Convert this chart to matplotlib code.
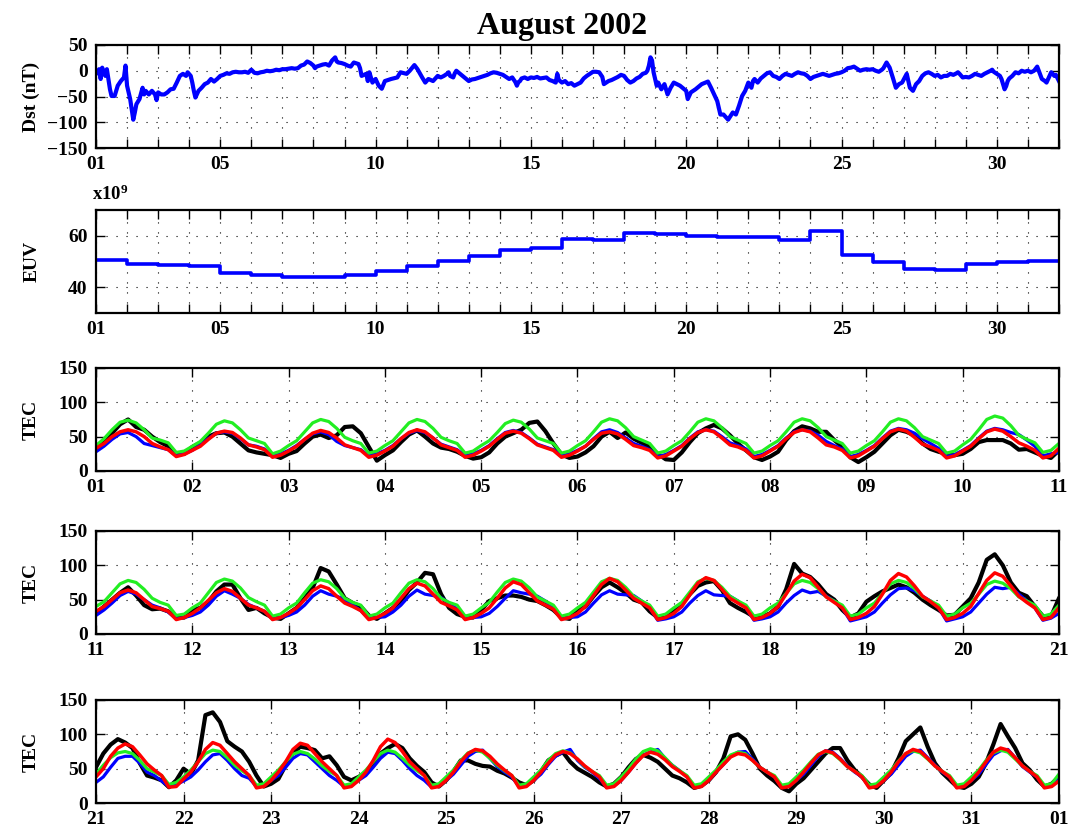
import numpy as np
import matplotlib.pyplot as plt

plt.rcParams['font.family'] = ['Liberation Serif', 'DejaVu Serif']
plt.rcParams['font.weight'] = 'bold'
plt.rcParams['mathtext.fontset'] = 'custom'
plt.rcParams['mathtext.rm'] = 'Liberation Serif:bold'
plt.rcParams['mathtext.bf'] = 'Liberation Serif:bold'
plt.rcParams['mathtext.it'] = 'Liberation Serif:bold'

# Dst index (day of month, nT)
dst_day = [1.0, 1.1, 1.15, 1.2, 1.3, 1.35, 1.45, 1.5, 1.6, 1.7, 1.8, 1.9, 1.95, 2.0,
           2.1, 2.15, 2.2, 2.25, 2.3, 2.4, 2.5, 2.55, 2.6, 2.7, 2.8, 2.9, 2.95, 3.0,
           3.1, 3.2, 3.3, 3.4, 3.5, 3.6, 3.7, 3.8, 3.9, 3.95, 4.05, 4.1, 4.15, 4.2,
           4.3, 4.4, 4.5, 4.6, 4.7, 4.8, 4.9, 5.0, 5.1, 5.2, 5.3, 5.4, 5.5, 5.6,
           5.7, 5.8, 5.9, 6.0, 6.1, 6.2, 6.3, 6.4, 6.5, 6.6, 6.7, 6.8, 6.9, 7.0,
           7.1, 7.2, 7.3, 7.4, 7.5, 7.6, 7.7, 7.8, 7.9, 8.0, 8.05, 8.1, 8.2, 8.3,
           8.4, 8.5, 8.6, 8.7, 8.75, 8.8, 8.9, 9.0, 9.1, 9.2, 9.3, 9.4, 9.45, 9.5,
           9.55, 9.7, 9.75, 9.8, 9.9, 10.0, 10.1, 10.2, 10.3, 10.5, 10.7, 10.8, 11.0,
           11.1, 11.25, 11.35, 11.5, 11.6, 11.7, 11.85, 12.0, 12.1, 12.2, 12.3, 12.35,
           12.4, 12.5, 12.55, 12.6, 12.7, 12.8, 12.9, 13.0, 13.1, 13.2, 13.3, 13.4,
           13.5, 13.6, 13.7, 13.8, 13.9, 14.0, 14.1, 14.2, 14.3, 14.4, 14.5, 14.55,
           14.6, 14.65, 14.7, 14.8, 14.9, 15.0, 15.1, 15.2, 15.3, 15.4, 15.5, 15.6,
           15.7, 15.8, 15.85, 15.9, 16.0, 16.1, 16.2, 16.3, 16.4, 16.5, 16.6, 16.7,
           16.8, 16.9, 17.0, 17.1, 17.2, 17.3, 17.35, 17.4, 17.5, 17.6, 17.7, 17.8,
           17.85, 17.9, 18.0, 18.1, 18.2, 18.3, 18.4, 18.5, 18.6, 18.7, 18.75, 18.8,
           18.85, 18.9, 18.95, 19.05, 19.1, 19.2, 19.3, 19.4, 19.5, 19.6, 19.7, 19.8,
           20.0, 20.05, 20.15, 20.3, 20.5, 20.7, 20.8, 20.9, 21.0, 21.1, 21.2, 21.35,
           21.5, 21.6, 21.7, 21.8, 21.9, 22.0, 22.1, 22.15, 22.2, 22.3, 22.4, 22.5,
           22.6, 22.7, 22.8, 22.9, 23.0, 23.1, 23.2, 23.3, 23.4, 23.5, 23.6, 23.7,
           23.8, 23.9, 24.0, 24.1, 24.2, 24.3, 24.4, 24.5, 24.6, 24.7, 24.8, 24.9,
           25.0, 25.1, 25.2, 25.3, 25.4, 25.5, 25.6, 25.7, 25.8, 25.9, 26.0, 26.1,
           26.2, 26.3, 26.35, 26.45, 26.55, 26.65, 26.75, 26.85, 26.95, 27.1, 27.2,
           27.3, 27.4, 27.5, 27.6, 27.7, 27.8, 27.9, 28.0, 28.1, 28.2, 28.3, 28.4,
           28.5, 28.6, 28.7, 28.75, 28.8, 28.9, 29.0, 29.1, 29.2, 29.3, 29.4, 29.5,
           29.6, 29.7, 29.8, 29.85, 29.9, 30.0, 30.1, 30.15, 30.25, 30.3, 30.35, 30.4,
           30.5, 30.6, 30.7, 30.8, 30.9, 31.0, 31.1, 31.2, 31.3, 31.35, 31.45, 31.55,
           31.6, 31.7, 31.75, 31.8, 31.85, 31.9, 32.0]
dst_nt = [-6, 3, -16, 6, -10, 3, -36, -49, -49, -29, -20, -13, 10, -29,
          -55, -75, -95, -81, -65, -55, -33, -46, -39, -46, -39, -46, -57, -42,
          -46, -46, -42, -36, -35, -23, -10, -6, -10, -3, -10, -23, -39, -52,
          -39, -33, -26, -23, -16, -21, -16, -10, -8, -5, -6, -3, -2, -3,
          -3, -2, -4, 2, -4, -5, -3, -2, 0, -1, 0, 2, 1, 3,
          3, 4, 5, 4, 5, 10, 12, 18, 15, 10, 5, 8, 10, 12,
          13, 10, 20, 26, 18, 16, 15, 13, 10, 8, 16, 14, 13, 5,
          -10, -6, -20, -3, -23, -16, -29, -35, -20, -16, -13, -3, -6,
          0, 11, 3, -13, -23, -16, -20, -10, -13, -10, -6, -3,
          -10, -13, -5, 0, -5, -10, -15, -20, -17, -16, -14, -12,
          -10, -8, -5, -3, -4, -6, -8, -12, -16, -13, -22, -29,
          -22, -20, -15, -13, -16, -13, -14, -12, -15, -14, -13, -18,
          -20, -23, -6, -18, -23, -20, -26, -24, -29, -26, -23, -15,
          -10, -6, -2, -2, -3, -12, -26, -24, -20, -18, -15, -12,
          -10, -8, -10, -18, -23, -20, -15, -12, -6, -4, 0, 10,
          26, 20, -3, -29, -23, -36, -26, -46, -33, -23, -26, -29,
          -39, -55, -42, -36, -26, -21, -33, -46, -59, -85, -85, -95,
          -81, -85, -68, -49, -39, -23, -33, -20, -16, -23, -15, -10,
          -5, -3, -10, -12, -16, -10, -6, -8, -10, -6, -3, -5,
          -6, -10, -16, -12, -10, -8, -6, -8, -10, -8, -6, -5,
          -3, 0, 5, 6, 8, 4, 0, 2, 3, 2, 3, 0,
          -2, 2, 5, 16, 6, -13, -33, -26, -23, -6, -33,
          -39, -26, -20, -10, -5, -3, -6, -10, -8, -13, -10, -10,
          -6, -8, -5, -3, -6, -13, -12, -13, -10, -6, -8, -10,
          -6, -3, 0, 2, -2, -6, -10, -16, -36, -30, -20, -15,
          -10, -3, -5, 0, -2, 0, -3, 0, 8, 0, -16, -20,
          -23, -10, -3, -6, -10, -8, -20]

# daily EUV flux (x10^9), Aug 01 .. Aug 31
euv_flux = [50.5, 49.2, 48.8, 48.4, 45.4, 44.7, 44.1, 44.0, 44.7, 46.5,
            48.3, 50.2, 52.2, 54.5, 55.4, 58.7, 58.4, 61.0, 60.6, 60.1,
            59.6, 59.6, 58.4, 61.7, 52.6, 49.7, 47.0, 46.7, 49.0, 49.9,
            50.2]

# TEC, 2-hour samples (00, 02, ..., 22 UT), one row per day of August
tec_obs = [
    [33, 43, 55, 68, 75, 64, 60, 50, 42, 36, 24, 25],
    [35, 41, 50, 55, 56, 50, 40, 30, 27, 25, 23, 19],
    [25, 29, 40, 50, 53, 48, 52, 64, 65, 55, 35, 15],
    [23, 30, 42, 53, 59, 50, 40, 34, 32, 28, 22, 18],
    [20, 27, 40, 50, 55, 60, 70, 72, 58, 40, 24, 19],
    [21, 27, 36, 50, 57, 48, 56, 47, 41, 35, 25, 17],
    [16, 27, 42, 55, 62, 67, 62, 52, 40, 30, 20, 16],
    [21, 28, 45, 58, 65, 62, 57, 57, 45, 35, 20, 13],
    [20, 28, 40, 52, 60, 57, 52, 40, 32, 28, 25, 23],
    [25, 32, 42, 45, 45, 45, 40, 31, 32, 27, 22, 19],
    [30, 40, 50, 60, 68, 56, 42, 36, 37, 33, 24, 24],
    [35, 38, 47, 62, 72, 72, 52, 35, 38, 30, 24, 22],
    [30, 38, 52, 67, 96, 91, 72, 52, 45, 40, 27, 22],
    [30, 38, 48, 64, 75, 89, 87, 58, 38, 29, 25, 24],
    [35, 48, 52, 56, 56, 54, 50, 48, 42, 35, 24, 22],
    [35, 40, 55, 68, 75, 68, 60, 50, 46, 33, 24, 24],
    [35, 43, 58, 70, 75, 77, 64, 45, 38, 32, 25, 25],
    [30, 40, 65, 102, 88, 83, 72, 58, 50, 35, 24, 30],
    [47, 55, 62, 67, 72, 68, 60, 50, 42, 35, 27, 28],
    [40, 52, 75, 108, 116, 100, 75, 60, 55, 40, 26, 25],
    [52, 72, 85, 93, 88, 80, 58, 40, 37, 33, 23, 33],
    [50, 42, 62, 128, 132, 118, 90, 82, 75, 60, 40, 24],
    [28, 35, 55, 73, 82, 80, 77, 65, 68, 55, 38, 33],
    [38, 44, 58, 72, 80, 86, 80, 65, 54, 45, 30, 24],
    [33, 46, 62, 62, 57, 54, 53, 47, 43, 37, 30, 26],
    [33, 46, 62, 69, 74, 60, 50, 44, 38, 30, 24, 28],
    [38, 52, 64, 70, 66, 60, 50, 40, 36, 30, 22, 25],
    [33, 45, 65, 97, 100, 92, 72, 50, 40, 32, 22, 17],
    [28, 36, 48, 60, 72, 80, 80, 62, 48, 38, 27, 22],
    [33, 44, 65, 90, 100, 110, 82, 58, 44, 34, 24, 22],
    [28, 38, 58, 85, 115, 97, 80, 58, 48, 34, 24, 28],
]
tec_blue = [
    [28, 36, 46, 54, 56, 50, 40, 37, 34, 31, 22, 25],
    [30, 38, 47, 55, 57, 55, 47, 38, 36, 32, 22, 25],
    [30, 37, 46, 54, 57, 53, 43, 37, 34, 31, 22, 25],
    [30, 37, 47, 55, 59, 56, 48, 39, 35, 31, 22, 25],
    [30, 37, 47, 56, 59, 56, 48, 39, 35, 31, 22, 25],
    [30, 36, 47, 57, 60, 56, 48, 40, 36, 31, 21, 24],
    [30, 37, 48, 57, 60, 58, 50, 41, 37, 32, 21, 24],
    [30, 37, 48, 57, 60, 58, 52, 43, 37, 32, 21, 24],
    [30, 37, 48, 58, 62, 60, 55, 47, 40, 33, 21, 24],
    [30, 37, 48, 58, 62, 60, 56, 53, 45, 36, 22, 25],
    [27, 35, 45, 56, 62, 58, 50, 42, 38, 32, 22, 24],
    [27, 32, 42, 55, 63, 58, 52, 43, 38, 33, 22, 24],
    [27, 32, 42, 55, 63, 58, 55, 50, 42, 34, 22, 24],
    [25, 32, 42, 55, 64, 58, 56, 53, 45, 36, 22, 24],
    [25, 30, 40, 52, 63, 60, 58, 55, 48, 38, 22, 24],
    [25, 32, 45, 57, 63, 58, 57, 56, 48, 38, 20, 22],
    [25, 32, 45, 56, 63, 57, 56, 55, 48, 38, 20, 22],
    [25, 32, 45, 56, 64, 60, 62, 55, 48, 38, 19, 22],
    [25, 32, 45, 57, 66, 67, 63, 55, 48, 38, 19, 22],
    [25, 32, 45, 58, 68, 66, 68, 58, 48, 38, 20, 23],
    [30, 38, 52, 65, 68, 68, 58, 45, 40, 32, 24, 27],
    [32, 38, 48, 60, 70, 72, 62, 50, 40, 36, 24, 25],
    [33, 40, 52, 65, 72, 70, 60, 50, 40, 33, 24, 25],
    [33, 40, 52, 65, 74, 72, 62, 50, 40, 33, 23, 25],
    [33, 42, 55, 68, 75, 77, 65, 53, 45, 38, 24, 26],
    [33, 42, 56, 68, 74, 78, 62, 52, 45, 36, 23, 25],
    [33, 45, 58, 70, 74, 78, 65, 55, 47, 38, 23, 25],
    [33, 45, 56, 68, 74, 75, 64, 52, 45, 38, 23, 25],
    [33, 42, 55, 68, 76, 74, 65, 54, 45, 38, 23, 25],
    [33, 42, 55, 68, 75, 77, 66, 55, 45, 38, 23, 25],
    [33, 42, 56, 70, 76, 78, 66, 53, 45, 38, 23, 25],
]
tec_green = [
    [37, 47, 60, 71, 74, 70, 60, 48, 45, 41, 27, 29],
    [36, 43, 55, 68, 73, 70, 60, 48, 44, 40, 25, 29],
    [37, 44, 57, 70, 75, 72, 62, 49, 44, 40, 26, 29],
    [37, 44, 57, 70, 75, 72, 62, 49, 44, 40, 26, 29],
    [37, 44, 56, 69, 74, 71, 61, 48, 44, 40, 26, 29],
    [37, 44, 57, 71, 76, 73, 63, 50, 45, 40, 26, 29],
    [37, 44, 57, 71, 76, 73, 63, 50, 45, 40, 26, 29],
    [37, 44, 57, 71, 76, 73, 63, 50, 45, 40, 26, 29],
    [37, 44, 57, 71, 76, 73, 63, 50, 45, 40, 26, 29],
    [38, 46, 60, 75, 80, 77, 66, 52, 46, 41, 27, 30],
    [40, 47, 60, 73, 78, 75, 65, 52, 46, 42, 27, 29],
    [38, 45, 60, 75, 80, 77, 67, 53, 47, 42, 26, 29],
    [38, 45, 60, 74, 79, 76, 66, 52, 46, 42, 26, 29],
    [38, 45, 60, 74, 79, 76, 66, 52, 46, 42, 26, 29],
    [38, 46, 61, 75, 80, 77, 67, 54, 48, 42, 26, 29],
    [38, 46, 61, 76, 81, 78, 68, 55, 48, 42, 26, 29],
    [38, 46, 61, 76, 81, 78, 68, 55, 48, 42, 26, 29],
    [38, 45, 59, 73, 78, 75, 66, 54, 48, 42, 26, 29],
    [38, 45, 59, 73, 78, 75, 66, 54, 48, 42, 26, 29],
    [38, 45, 58, 72, 77, 74, 66, 54, 48, 42, 26, 29],
    [42, 55, 66, 73, 75, 72, 62, 50, 45, 40, 27, 30],
    [38, 48, 60, 72, 77, 75, 66, 55, 47, 40, 26, 28],
    [38, 48, 60, 71, 75, 72, 64, 54, 46, 40, 26, 28],
    [38, 48, 60, 72, 77, 74, 65, 55, 47, 40, 26, 28],
    [38, 48, 62, 73, 77, 74, 65, 55, 47, 40, 26, 28],
    [38, 48, 62, 72, 76, 73, 64, 53, 46, 40, 26, 28],
    [38, 50, 64, 75, 79, 76, 66, 55, 47, 40, 26, 28],
    [38, 48, 60, 70, 74, 72, 62, 52, 45, 40, 26, 28],
    [38, 48, 60, 71, 75, 72, 63, 53, 46, 40, 26, 28],
    [38, 48, 61, 72, 76, 73, 64, 54, 46, 40, 26, 28],
    [38, 48, 62, 73, 77, 74, 64, 54, 46, 40, 26, 28],
]
tec_red = [
    [33, 40, 50, 57, 60, 57, 50, 40, 35, 31, 21, 24],
    [30, 36, 46, 55, 58, 56, 48, 38, 35, 31, 20, 23],
    [29, 36, 46, 55, 59, 56, 48, 38, 34, 30, 20, 23],
    [29, 36, 47, 56, 60, 57, 48, 38, 34, 30, 20, 23],
    [29, 36, 46, 55, 58, 55, 47, 38, 34, 30, 20, 23],
    [29, 36, 46, 55, 57, 54, 46, 37, 34, 30, 19, 22],
    [29, 36, 47, 56, 60, 57, 48, 38, 35, 30, 19, 22],
    [29, 36, 47, 56, 60, 57, 48, 38, 35, 30, 19, 22],
    [29, 36, 47, 57, 61, 58, 49, 39, 35, 30, 19, 22],
    [29, 36, 47, 57, 61, 58, 50, 41, 36, 30, 19, 22],
    [33, 40, 50, 60, 64, 60, 50, 40, 37, 33, 21, 24],
    [30, 38, 49, 60, 66, 62, 52, 42, 38, 33, 21, 24],
    [30, 38, 50, 63, 70, 66, 55, 45, 40, 34, 21, 24],
    [30, 38, 52, 66, 74, 70, 58, 46, 41, 35, 21, 24],
    [30, 38, 52, 67, 76, 72, 60, 48, 42, 36, 21, 24],
    [30, 40, 56, 72, 81, 76, 64, 52, 45, 38, 21, 24],
    [30, 40, 57, 74, 82, 78, 65, 52, 45, 38, 21, 24],
    [30, 40, 58, 77, 87, 82, 68, 54, 46, 38, 21, 24],
    [30, 40, 58, 78, 88, 83, 70, 55, 47, 38, 21, 24],
    [30, 40, 59, 78, 89, 84, 70, 55, 46, 38, 21, 24],
    [38, 50, 68, 80, 86, 82, 70, 57, 48, 40, 23, 24],
    [35, 45, 60, 78, 88, 84, 72, 60, 50, 40, 22, 24],
    [33, 45, 60, 78, 87, 84, 72, 60, 50, 40, 22, 24],
    [33, 45, 62, 82, 93, 88, 75, 60, 50, 40, 22, 24],
    [33, 45, 60, 72, 78, 76, 68, 57, 48, 40, 22, 24],
    [33, 45, 58, 70, 75, 72, 64, 54, 46, 38, 22, 24],
    [33, 45, 58, 69, 74, 71, 63, 53, 46, 38, 22, 24],
    [33, 45, 56, 67, 72, 70, 62, 52, 45, 38, 22, 24],
    [33, 45, 58, 70, 76, 73, 64, 53, 46, 38, 22, 24],
    [33, 45, 60, 72, 78, 75, 65, 54, 46, 38, 22, 24],
    [33, 45, 60, 74, 80, 77, 66, 54, 46, 38, 22, 24],
]
# value at Sep 01 00 UT closing each TEC series
tec_end = {'obs': 38, 'blue': 35, 'green': 42, 'red': 32}

tec_hours = np.arange(0, 24, 2)
tec_days = np.arange(1, 32)
tec_t = np.append((tec_days[:, None] + tec_hours[None, :] / 24.0).ravel(), 32.0)


def series(rows, last):
    return np.append(np.ravel(rows), last)


def style_axis(ax, xlim, xticks, xlabels, ylim, yticks):
    ax.set_xlim(*xlim)
    ax.set_ylim(*ylim)
    ax.set_xticks(xticks)
    ax.set_xticklabels(xlabels)
    ax.set_yticks(yticks)
    ax.tick_params(direction='in', top=True, right=True, length=6.5, width=1.0,
                   labelsize=14, pad=6)
    for lab in ax.get_xticklabels() + ax.get_yticklabels():
        lab.set_fontweight('bold')
    for s in ax.spines.values():
        s.set_linewidth(1.6)
    ax.grid(True, color='black', linestyle=(0, (1, 8)), linewidth=0.8)
    ax.yaxis.set_label_coords(-0.058, 0.5)


fig = plt.figure(figsize=(10.69, 8.33), dpi=100)
left, width, height = 0.0898, 0.9008, 0.1237

month_ticks = np.arange(1, 33)
month_labels = ['01' if d == 1 else ('%02d' % d if d % 5 == 0 else '') for d in month_ticks]

# Dst
ax = fig.add_axes([left, 0.8223, width, height])
ax.plot(dst_day, dst_nt, color='#0000ff', linewidth=3.0)
style_axis(ax, (1, 32), month_ticks, month_labels, (-150, 50), [-150, -100, -50, 0, 50])
ax.set_ylabel('Dst (nT)', fontsize=14, fontweight='bold')
ax.set_title('August 2002', fontsize=23, fontweight='bold', pad=8, x=0.484)

# EUV
ax = fig.add_axes([left, 0.6242, width, height])
ax.plot(np.arange(1, 33), euv_flux + [euv_flux[-1]], drawstyle='steps-post',
        color='#0000ff', linewidth=2.6)
style_axis(ax, (1, 32), month_ticks, month_labels, (30, 70), [40, 60])
ax.set_ylabel('EUV', fontsize=14, fontweight='bold')
ax.text(-0.004, 1.06, 'x10$^{9}$', transform=ax.transAxes, fontsize=13.5,
        fontweight='bold', ha='left', va='bottom')

# TEC, three ten/eleven-day windows
obs = series(tec_obs, tec_end['obs'])
blue = series(tec_blue, tec_end['blue'])
green = series(tec_green, tec_end['green'])
red = series(tec_red, tec_end['red'])

windows = [(1, 11, 0.4346), (11, 21, 0.2389), (21, 32, 0.0360)]
for d0, d1, bottom in windows:
    ax = fig.add_axes([left, bottom, width, height])
    ax.plot(tec_t, obs, color='black', linewidth=3.0)
    ax.plot(tec_t, blue, color='#0000ff', linewidth=2.3)
    ax.plot(tec_t, green, color='#22ee22', linewidth=2.3)
    ax.plot(tec_t, red, color='#ff0000', linewidth=2.5)
    ticks = np.arange(d0, d1 + 1)
    labels = ['%02d' % (d if d <= 31 else d - 31) for d in ticks]
    style_axis(ax, (d0, d1), ticks, labels, (0, 150), [0, 50, 100, 150])
    ax.set_ylabel('TEC', fontsize=14, fontweight='bold')

fig.savefig('out.png', dpi=100)
